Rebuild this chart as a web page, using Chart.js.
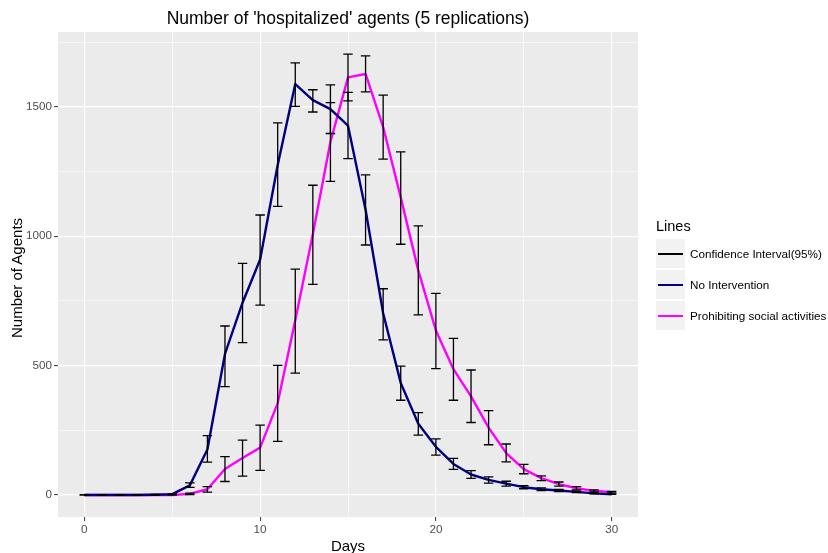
<!DOCTYPE html>
<html>
<head>
<meta charset="utf-8">
<script src="https://cdn.jsdelivr.net/npm/chart.js@4/dist/chart.umd.min.js"></script>
<style>
  body { margin: 0; background: #fff; }
  #wrap { position: relative; width: 828px; height: 553px; font-family: "Liberation Sans", Arial, Helvetica, sans-serif; }
  canvas { position: absolute; left: 0; top: 0; }
  .txt { position: absolute; line-height: 1; white-space: nowrap; color: #000; }
  .key { position: absolute; left: 656px; width: 29px; height: 29px; background: #F2F2F2; }
  .key span { position: absolute; left: 2px; right: 2px; top: 13.5px; height: 2.2px; }
  .lab { position: absolute; left: 690px; height: 29px; display: flex; align-items: center; font-size: 11.7px; }
</style>
</head>
<body>
<div id="wrap">
  <canvas id="chart" width="828" height="553"></canvas>
  <div class="txt" style="left:0;width:696px;text-align:center;top:9.5px;font-size:17.5px;">Number of 'hospitalized' agents (5 replications)</div>
  <div class="txt" style="left:58px;width:580px;text-align:center;top:538px;font-size:15px;">Days</div>
  <div class="txt" style="left:-43px;width:120px;height:16px;line-height:16px;text-align:center;top:270px;font-size:15px;transform:rotate(-90deg);">Number of Agents</div>
  <div class="txt" style="left:656px;top:218.5px;font-size:14.5px;">Lines</div>
  <div class="key" style="top:239px;"><span style="background:#000;"></span></div>
  <div class="key" style="top:270px;"><span style="background:#000080;"></span></div>
  <div class="key" style="top:301px;"><span style="background:#FF00FF;"></span></div>
  <div class="lab" style="top:239px;">Confidence Interval(95%)</div>
  <div class="lab" style="top:270px;">No Intervention</div>
  <div class="lab" style="top:301px;">Prohibiting social activities</div>
</div>
<script>
// days 0..30
const days = [0,1,2,3,4,5,6,7,8,9,10,11,12,13,14,15,16,17,18,19,20,21,22,23,24,25,26,27,28,29,30];

// mean hospitalized, no intervention
const noIntervention = [0,0,0,0,1,3,37,176,545,743,910,1275,1588,1526,1491,1427,1102,702,433,275,186,120,79,58,44,30,22,17,12,6,3];
const noInterventionLo = [0,0,0,0,0,1,29,127,419,589,734,1115,1502,1480,1397,1300,966,599,366,231,154,99,64,46,34,24,17,13,9,4,2];
const noInterventionHi = [0,0,0,0,2,5,47,229,653,895,1082,1438,1670,1566,1585,1556,1237,797,498,318,217,141,94,70,53,36,27,21,15,8,4];

// mean hospitalized, prohibiting social activities
const prohibiting = [0,0,0,0,0,0,4,22,100,143,183,355,675,1008,1364,1614,1627,1422,1150,868,636,486,381,260,162,100,65,42,26,16,11];
const prohibitingLo = [0,0,0,0,0,0,1,11,52,73,95,207,471,814,1212,1523,1558,1298,969,696,488,366,280,194,128,82,55,34,20,12,8];
const prohibitingHi = [0,0,0,0,0,0,7,32,148,212,270,501,873,1197,1516,1704,1697,1545,1326,1040,779,605,483,326,197,118,74,50,32,20,14];

const xTicks = [0,5,10,15,20,25,30];
const yTicks = [0,250,500,750,1000,1250,1500,1750];

const toPoints = (vals) => days.map((d, i) => ({ x: d, y: vals[i] }));

const panelBg = {
  id: 'panelBg',
  beforeDraw(chart) {
    const { ctx, chartArea: a } = chart;
    ctx.save();
    ctx.fillStyle = '#EBEBEB';
    ctx.fillRect(a.left, a.top, a.right - a.left, a.bottom - a.top);
    ctx.restore();
  }
};

// error bars drawn on top of the lines, like geom_errorbar
const errorBars = {
  id: 'errorBars',
  afterDatasetsDraw(chart) {
    const { ctx, chartArea: a, scales } = chart;
    const sx = scales.x, sy = scales.y;
    const sets = [[noInterventionLo, noInterventionHi], [prohibitingLo, prohibitingHi]];
    ctx.save();
    ctx.beginPath();
    ctx.rect(a.left, a.top, a.right - a.left, a.bottom - a.top);
    ctx.clip();
    ctx.strokeStyle = '#000';
    ctx.lineWidth = 1.3;
    sets.forEach(([lo, hi]) => {
      days.forEach((d, i) => {
        const xc = sx.getPixelForValue(d);
        const half = sx.getPixelForValue(d + 0.27) - xc;
        const y1 = sy.getPixelForValue(lo[i]);
        const y2 = sy.getPixelForValue(hi[i]);
        ctx.beginPath();
        ctx.moveTo(xc, y1); ctx.lineTo(xc, y2);
        ctx.moveTo(xc - half, y1); ctx.lineTo(xc + half, y1);
        ctx.moveTo(xc - half, y2); ctx.lineTo(xc + half, y2);
        ctx.stroke();
      });
    });
    ctx.restore();
  }
};

const tickFont = { family: '"Liberation Sans", Arial, sans-serif', size: 11.7 };

new Chart(document.getElementById('chart'), {
  type: 'line',
  data: {
    datasets: [
      {
        label: 'No Intervention',
        data: toPoints(noIntervention),
        borderColor: '#000080',
        borderWidth: 2.4,
        pointRadius: 0,
        tension: 0,
        borderJoinStyle: 'round',
      },
      {
        label: 'Prohibiting social activities',
        data: toPoints(prohibiting),
        borderColor: '#FF00FF',
        borderWidth: 2.4,
        pointRadius: 0,
        tension: 0,
        borderJoinStyle: 'round',
      },
    ],
  },
  options: {
    responsive: false,
    animation: false,
    layout: { padding: { top: 32, right: 190, bottom: 0, left: 0 } },
    plugins: { legend: { display: false }, tooltip: { enabled: false } },
    scales: {
      x: {
        type: 'linear',
        min: -1.5,
        max: 31.5,
        afterBuildTicks: (s) => { s.ticks = xTicks.map(v => ({ value: v })); },
        afterFit: (s) => { s.height = 36; },
        border: { display: false },
        grid: {
          color: '#FFFFFF',
          lineWidth: (c) => (c.tick && c.tick.value % 10 === 0 ? 1.2 : 0.6),
          tickColor: (c) => (c.tick && c.tick.value % 10 === 0 ? '#333333' : 'rgba(0,0,0,0)'),
          tickLength: 4,
          tickWidth: 1,
        },
        ticks: {
          font: tickFont,
          color: '#4D4D4D',
          padding: 2,
          maxRotation: 0,
          autoSkip: false,
          callback: (v) => (v % 10 === 0 ? String(v) : ''),
        },
      },
      y: {
        type: 'linear',
        min: -85.2,
        max: 1789.2,
        afterBuildTicks: (s) => { s.ticks = yTicks.map(v => ({ value: v })); },
        afterFit: (s) => { s.width = 58; },
        border: { display: false },
        grid: {
          color: '#FFFFFF',
          lineWidth: (c) => (c.tick && c.tick.value % 500 === 0 ? 1.2 : 0.6),
          tickColor: (c) => (c.tick && c.tick.value % 500 === 0 ? '#333333' : 'rgba(0,0,0,0)'),
          tickLength: 4,
          tickWidth: 1,
        },
        ticks: {
          font: tickFont,
          color: '#4D4D4D',
          padding: 2,
          autoSkip: false,
          callback: (v) => (v % 500 === 0 ? String(v) : ''),
        },
      },
    },
  },
  plugins: [panelBg, errorBars],
});
</script>
</body>
</html>
